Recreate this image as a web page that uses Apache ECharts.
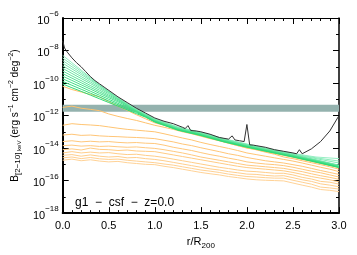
<!DOCTYPE html>
<html><head><meta charset="utf-8">
<script src="https://cdn.jsdelivr.net/npm/echarts@6/dist/echarts.min.js"></script>
<style>html,body{margin:0;padding:0;background:#fff}#c{width:357px;height:255px}</style>
</head><body><div id="c"></div>
<script>
// log10 exponents of surface brightness
const rGreen = [0,0.1,0.2,0.3,0.4,0.5,0.6,0.7,0.8,0.9,1.0,1.25,1.5,1.75,2.0,2.25,2.5,2.75,3.0];
const g0 = [-8.3,-8.75,-9.2,-9.65,-10.1,-10.5,-10.9,-11.25,-11.6,-11.9,-12.2,-12.7,-13.03,-13.42,-13.75,-14.05,-14.33,-14.55,-14.65];
const g1 = [-8.46,-8.87,-9.28,-9.69,-10.12,-10.52,-10.92,-11.27,-11.62,-11.92,-12.22,-12.72,-13.05,-13.44,-13.77,-14.07,-14.36,-14.6,-14.8];
const g2 = [-8.62,-9.0,-9.38,-9.76,-10.14,-10.54,-10.94,-11.29,-11.64,-11.94,-12.24,-12.74,-13.07,-13.46,-13.79,-14.09,-14.38,-14.65,-14.92];
const g3 = [-8.78,-9.13,-9.48,-9.83,-10.18,-10.55,-10.95,-11.3,-11.65,-11.95,-12.25,-12.75,-13.08,-13.47,-13.8,-14.1,-14.4,-14.72,-15.05];
const g4 = [-8.94,-9.27,-9.6,-9.93,-10.26,-10.59,-10.97,-11.32,-11.67,-11.97,-12.27,-12.77,-13.1,-13.49,-13.82,-14.12,-14.42,-14.74,-15.07];
const g5 = [-9.1,-9.41,-9.72,-10.03,-10.34,-10.66,-10.99,-11.34,-11.69,-11.99,-12.29,-12.79,-13.12,-13.51,-13.84,-14.14,-14.44,-14.76,-15.09];
const g6 = [-9.26,-9.56,-9.85,-10.15,-10.44,-10.74,-11.03,-11.36,-11.71,-12.01,-12.31,-12.81,-13.14,-13.53,-13.86,-14.16,-14.46,-14.78,-15.11];
const g7 = [-9.42,-9.7,-9.98,-10.26,-10.54,-10.82,-11.09,-11.38,-11.73,-12.03,-12.33,-12.83,-13.16,-13.55,-13.88,-14.18,-14.48,-14.8,-15.13];
const g8 = [-9.58,-9.84,-10.11,-10.37,-10.64,-10.9,-11.16,-11.43,-11.74,-12.04,-12.34,-12.84,-13.17,-13.56,-13.89,-14.19,-14.49,-14.81,-15.14];
const g9 = [-9.74,-9.99,-10.24,-10.5,-10.75,-11.0,-11.25,-11.5,-11.76,-12.06,-12.36,-12.86,-13.19,-13.58,-13.91,-14.21,-14.51,-14.83,-15.16];
const g10 = [-9.9,-10.14,-10.38,-10.62,-10.86,-11.1,-11.33,-11.57,-11.81,-12.08,-12.38,-12.88,-13.21,-13.6,-13.93,-14.23,-14.53,-14.85,-15.18];
const g11 = [-10.06,-10.29,-10.51,-10.74,-10.97,-11.2,-11.42,-11.65,-11.88,-12.1,-12.4,-12.9,-13.23,-13.62,-13.95,-14.25,-14.55,-14.87,-15.2];

const rOrange = [0,0.1,0.2,0.3,0.4,0.5,0.6,0.7,0.8,0.9,1.0,1.1,1.2,1.3,1.4,1.5,1.6,1.7,1.8,1.9,2.0,2.1,2.2,2.3,2.4,2.5,2.6,2.7,2.8,2.9,3.0];
const o0 = [-10.2,-10.4,-10.55,-10.7,-10.85,-11.15,-11.42,-11.68,-11.95,-12.2,-12.45,-12.6,-12.78,-12.95,-13.1,-13.25,-13.4,-13.55,-13.7,-13.85,-13.98,-14.1,-14.22,-14.33,-14.45,-14.57,-14.7,-14.82,-14.95,-15.07,-15.2];
const o1 = [-11.5,-11.42,-11.55,-11.62,-11.7,-11.9,-12.05,-12.18,-12.3,-12.45,-12.6,-12.72,-12.85,-13.0,-13.12,-13.27,-13.42,-13.55,-13.7,-13.85,-14.0,-14.1,-14.25,-14.38,-14.55,-14.65,-14.78,-14.9,-15.02,-15.15,-15.3];
const o2 = [-12.6,-12.5,-12.55,-12.58,-12.62,-12.7,-12.78,-12.85,-12.9,-12.95,-13.0,-13.12,-13.25,-13.38,-13.5,-13.65,-13.78,-13.9,-14.02,-14.15,-14.3,-14.4,-14.5,-14.6,-14.7,-14.8,-14.92,-15.05,-15.18,-15.3,-15.45];
const o3 = [-13.2,-13.15,-13.22,-13.2,-13.25,-13.28,-13.3,-13.33,-13.35,-13.38,-13.42,-13.52,-13.62,-13.75,-13.85,-13.98,-14.1,-14.22,-14.35,-14.45,-14.58,-14.68,-14.78,-14.85,-14.92,-15.02,-15.12,-15.25,-15.38,-15.5,-15.62];
const o4 = [-13.6,-13.55,-13.62,-13.58,-13.62,-13.6,-13.65,-13.68,-13.66,-13.7,-13.72,-13.82,-13.95,-14.05,-14.15,-14.28,-14.4,-14.5,-14.62,-14.72,-14.85,-14.92,-14.98,-15.02,-15.08,-15.18,-15.3,-15.42,-15.52,-15.65,-15.78];
const o5 = [-13.85,-13.82,-13.88,-13.85,-13.9,-13.88,-13.92,-13.95,-13.93,-13.98,-14.02,-14.1,-14.2,-14.3,-14.42,-14.55,-14.65,-14.75,-14.85,-14.95,-15.05,-15.1,-15.15,-15.2,-15.25,-15.35,-15.45,-15.58,-15.7,-15.8,-15.92];
const o6 = [-14.1,-14.05,-14.12,-14.0,-14.08,-14.1,-14.15,-14.12,-14.18,-14.2,-14.22,-14.32,-14.42,-14.52,-14.62,-14.72,-14.82,-14.92,-15.02,-15.12,-15.2,-15.25,-15.3,-15.35,-15.4,-15.5,-15.62,-15.75,-15.85,-15.95,-16.08];
const o7 = [-14.3,-14.22,-14.3,-14.25,-14.3,-14.28,-14.35,-14.4,-14.38,-14.45,-14.5,-14.58,-14.68,-14.78,-14.88,-14.98,-15.08,-15.18,-15.26,-15.35,-15.42,-15.45,-15.5,-15.55,-15.55,-15.65,-15.8,-15.9,-16.05,-16.1,-16.22];
const o8 = [-14.45,-14.4,-14.5,-14.42,-14.5,-14.55,-14.52,-14.6,-14.58,-14.65,-14.7,-14.78,-14.88,-14.98,-15.08,-15.18,-15.28,-15.35,-15.45,-15.52,-15.6,-15.62,-15.68,-15.72,-15.7,-15.82,-15.95,-16.05,-16.2,-16.28,-16.38];
const o9 = [-14.6,-14.55,-14.65,-14.58,-14.66,-14.7,-14.68,-14.75,-14.8,-14.85,-14.9,-14.98,-15.05,-15.15,-15.25,-15.35,-15.42,-15.5,-15.6,-15.68,-15.75,-15.78,-15.82,-15.85,-15.85,-15.98,-16.1,-16.22,-16.4,-16.45,-16.52];
const o10 = [-14.75,-14.68,-14.78,-14.72,-14.8,-14.85,-14.82,-14.9,-14.95,-15.0,-15.02,-15.12,-15.2,-15.3,-15.4,-15.5,-15.58,-15.65,-15.75,-15.82,-15.9,-15.95,-15.98,-16.0,-16.02,-16.15,-16.28,-16.4,-16.55,-16.6,-16.68];

const rBlack = [0,0.02,0.05,0.1,0.15,0.2,0.25,0.3,0.35,0.4,0.45,0.5,0.6,0.7,0.8,0.9,1.0,1.1,1.2,1.3,1.33,1.36,1.39,1.45,1.5,1.6,1.7,1.8,1.84,1.87,1.92,1.97,2.0,2.03,2.07,2.1,2.2,2.3,2.4,2.5,2.54,2.57,2.6,2.7,2.8,2.9,3.0];
const black = [-7.4,-7.85,-8.1,-8.45,-8.75,-9.0,-9.3,-9.6,-9.85,-10.05,-10.25,-10.45,-10.85,-11.2,-11.55,-11.85,-12.15,-12.35,-12.5,-12.72,-12.8,-12.62,-12.92,-12.95,-13.0,-13.15,-13.35,-13.45,-13.25,-13.5,-13.55,-13.6,-12.55,-13.8,-13.82,-13.85,-13.95,-14.1,-14.2,-14.3,-14.35,-14.1,-14.35,-14.05,-13.6,-12.95,-12.0];

const bandLow = 1.7e-12, bandHigh = 4.6e-12;
const xTicks = [0, 3, 0.5];
const yRange = [1e-18, 1e-6];
const annotation = 'g1  \u2212  csf  \u2212  z=0.0';

const greens = [g0,g1,g2,g3,g4,g5,g6,g7,g8,g9,g10,g11];
const oranges = [o0,o1,o2,o3,o4,o5,o6,o7,o8,o9,o10];

function mix(a, b, t) { return 'rgb(' + a.map((v, i) => Math.round(v + (b[i] - v) * t)).join(',') + ')'; }
function toPts(rs, ex) { return rs.map((r, k) => [r, Math.pow(10, ex[k])]); }

const series = [];
series.push({
  type: 'line', data: [], z: 1, silent: true,
  markArea: { silent: true, itemStyle: { color: '#94b2ae', opacity: 1 },
    data: [[{ yAxis: bandLow }, { yAxis: bandHigh }]] }
});
oranges.forEach((o, i) => series.push({
  type: 'line', data: toPts(rOrange, o), showSymbol: false, z: 2, silent: true,
  lineStyle: { width: 1, color: mix([255, 192, 105], [255, 210, 150], i / (oranges.length - 1)) }
}));
greens.forEach((g, i) => series.push({
  type: 'line', data: toPts(rGreen, g), showSymbol: false, z: 3, silent: true,
  lineStyle: { width: 1, color: mix([150, 238, 195], [45, 218, 118], i / (greens.length - 1)) }
}));
series.push({
  type: 'line', data: toPts(rBlack, black), showSymbol: false, z: 4, silent: true,
  lineStyle: { width: 1, color: '#333' }
});

const font = 'Liberation Sans';
const yFmt = v => { const e = Math.round(Math.log10(v)); return '{b|10}{s|\u2212' + (-e) + '}'; };
const yRich = { b: { fontSize: 11, fontFamily: font, color: '#000', lineHeight: 16, verticalAlign: 'bottom' },
                s: { fontSize: 8, fontFamily: font, color: '#000', lineHeight: 9, verticalAlign: 'top' } };

const chart = echarts.init(document.getElementById('c'), null, { renderer: 'canvas' });
chart.setOption({
  animation: false,
  backgroundColor: '#fff',
  title: { text: annotation, left: 70, top: 192, textStyle: { fontSize: 12, fontWeight: 'normal', fontFamily: font, color: '#000' } },
  grid: { left: 58, right: 18, top: 18, bottom: 38 },
  xAxis: [
    { type: 'value', position: 'bottom', min: xTicks[0], max: xTicks[1], interval: xTicks[2],
      axisLine: { lineStyle: { color: '#000', width: 2 } },
      axisTick: { inside: true, length: 6, lineStyle: { color: '#000' } },
      minorTick: { show: true, splitNumber: 5, length: 3, lineStyle: { color: '#000' } },
      splitLine: { show: false },
      axisLabel: { formatter: v => v.toFixed(1), fontSize: 11, fontFamily: font, color: '#000', margin: 7 },
      name: '{n|r/R}{sub|200}', nameLocation: 'middle', nameGap: 20,
      nameTextStyle: { rich: { n: { fontSize: 11, fontFamily: font, color: '#000', lineHeight: 14, verticalAlign: 'top' },
                               sub: { fontSize: 8, fontFamily: font, color: '#000', lineHeight: 14, verticalAlign: 'bottom', padding: [6,0,0,0] } } } },
    { type: 'value', position: 'top', min: xTicks[0], max: xTicks[1], interval: xTicks[2],
      axisLine: { lineStyle: { color: '#000', width: 1 } },
      axisTick: { inside: true, length: 6, lineStyle: { color: '#000' } },
      minorTick: { show: true, splitNumber: 5, length: 3, lineStyle: { color: '#000' } },
      splitLine: { show: false }, axisLabel: { show: false } }
  ],
  yAxis: [
    { type: 'log', logBase: 10, position: 'left', min: yRange[0], max: yRange[1], interval: 2,
      axisLine: { lineStyle: { color: '#000', width: 2 } },
      axisTick: { inside: true, length: 6, lineStyle: { color: '#000' } },
      splitLine: { show: false },
      axisLabel: { formatter: yFmt, rich: yRich, margin: 4 },
      name: '{n|B}{sb|[2\u221210]}{sk| keV}{n| (erg s}{sp|\u22121}{n| cm}{sp|\u22122}{n| deg}{sp|\u22122}{n|)}',
      nameLocation: 'middle', nameGap: 40, nameRotate: 90,
      nameTextStyle: { rich: {
        n: { fontSize: 10, fontFamily: font, color: '#000', lineHeight: 14, verticalAlign: 'middle' },
        sb: { fontSize: 8, fontFamily: font, color: '#000', lineHeight: 14, verticalAlign: 'bottom', padding: [6,0,0,0] },
        sk: { fontSize: 6, fontFamily: font, color: '#000', lineHeight: 14, verticalAlign: 'bottom', padding: [6,0,0,0] },
        sp: { fontSize: 7, fontFamily: font, color: '#000', lineHeight: 8, verticalAlign: 'top' } } } },
    { type: 'log', logBase: 10, position: 'left', min: yRange[0], max: yRange[1], interval: 1,
      axisLine: { show: false },
      axisTick: { inside: true, length: 3, lineStyle: { color: '#000' } },
      splitLine: { show: false }, axisLabel: { show: false } },
    { type: 'log', logBase: 10, position: 'right', min: yRange[0], max: yRange[1], interval: 2,
      axisLine: { lineStyle: { color: '#000', width: 1.5 } },
      axisTick: { inside: true, length: 6, lineStyle: { color: '#000' } },
      splitLine: { show: false }, axisLabel: { show: false } },
    { type: 'log', logBase: 10, position: 'right', min: yRange[0], max: yRange[1], interval: 1,
      axisLine: { show: false },
      axisTick: { inside: true, length: 3, lineStyle: { color: '#000' } },
      splitLine: { show: false }, axisLabel: { show: false } }
  ],
  series: series
});
</script></body></html>
